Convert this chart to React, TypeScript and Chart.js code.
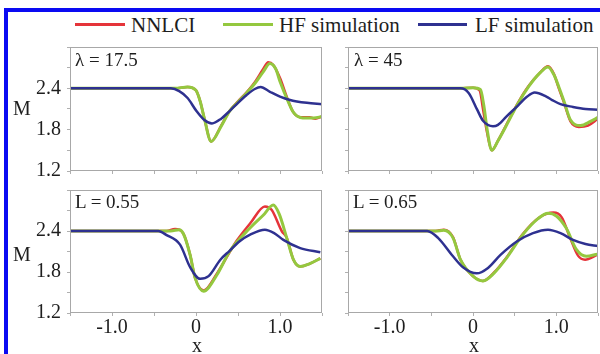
import React, { useEffect, useRef } from 'react';
import { Chart, registerables } from 'chart.js';

Chart.register(...registerables);

// ---- tick definitions ----
const xTickValues = [-1.5, -1.0, -0.5, 0, 0.5, 1.0, 1.5];
const xTickLabels = ['', '-1.0', '', '0', '', '1.0', ''];
const yTickValues = [1.2, 1.5, 1.8, 2.1, 2.4, 2.7, 3.0];
const yTickLabels = ['1.2', '', '1.8', '', '2.4', '', ''];

const seriesNames = ['NNLCI', 'HF simulation', 'LF simulation'];
const panelTitles = ['λ = 17.5', 'λ = 45', 'L = 0.55', 'L = 0.65'];

// ---- panel 1: λ = 17.5 ----
const tlNnlciX = [-1.5, -0.25, -0.1, 0, 0.05, 0.1, 0.18, 0.3, 0.4, 0.5, 0.6, 0.7, 0.8, 0.86, 0.92, 1.0, 1.08, 1.15, 1.25, 1.35, 1.42, 1.5];
const tlNnlciY = [2.4, 2.4, 2.42, 2.37, 2.21, 1.96, 1.63, 1.86, 2.07, 2.21, 2.34, 2.49, 2.68, 2.78, 2.74, 2.55, 2.28, 2.07, 1.98, 1.98, 1.96, 1.99];
const tlHfX = [-1.5, -0.25, -0.1, 0, 0.05, 0.1, 0.18, 0.3, 0.4, 0.5, 0.6, 0.7, 0.8, 0.88, 0.95, 1.0, 1.1, 1.16, 1.27, 1.4, 1.5];
const tlHfY = [2.4, 2.4, 2.42, 2.37, 2.21, 1.96, 1.63, 1.85, 2.07, 2.2, 2.33, 2.47, 2.64, 2.76, 2.68, 2.5, 2.2, 2.05, 1.97, 1.97, 1.99];
const tlLfX = [-1.5, -0.3, -0.2, -0.1, 0, 0.1, 0.19, 0.3, 0.4, 0.5, 0.6, 0.7, 0.77, 0.88, 1.0, 1.12, 1.2, 1.32, 1.5];
const tlLfY = [2.4, 2.4, 2.36, 2.26, 2.08, 1.94, 1.89, 1.96, 2.07, 2.19, 2.3, 2.39, 2.42, 2.35, 2.28, 2.23, 2.21, 2.19, 2.17];

// ---- panel 2: λ = 45 ----
const trNnlciX = [-1.5, -0.15, 0, 0.08, 0.12, 0.17, 0.225, 0.3, 0.4, 0.54, 0.665, 0.8, 0.9, 0.97, 1.03, 1.09, 1.17, 1.27, 1.38, 1.5];
const trNnlciY = [2.4, 2.4, 2.41, 2.37, 2.1, 1.75, 1.5, 1.64, 1.87, 2.19, 2.43, 2.62, 2.72, 2.61, 2.4, 2.2, 1.92, 1.84, 1.86, 1.96];
const trHfX = [-1.5, -0.15, 0, 0.09, 0.13, 0.17, 0.225, 0.3, 0.4, 0.54, 0.665, 0.8, 0.9, 0.97, 1.03, 1.09, 1.17, 1.29, 1.41, 1.5];
const trHfY = [2.4, 2.4, 2.41, 2.38, 2.15, 1.8, 1.5, 1.64, 1.86, 2.18, 2.42, 2.62, 2.71, 2.6, 2.42, 2.22, 1.94, 1.86, 1.92, 1.98];
const trLfX = [-1.5, -0.15, -0.05, 0.05, 0.12, 0.24, 0.3, 0.4, 0.54, 0.65, 0.74, 0.88, 0.95, 1.05, 1.2, 1.35, 1.5];
const trLfY = [2.4, 2.4, 2.33, 2.09, 1.93, 1.85, 1.87, 1.99, 2.15, 2.28, 2.34, 2.28, 2.23, 2.17, 2.13, 2.1, 2.09];

// ---- panel 3: L = 0.55 ----
const blNnlciX = [-1.5, -0.35, -0.25, -0.15, -0.07, -0.01, 0.09, 0.25, 0.48, 0.65, 0.82, 0.9, 1.02, 1.08, 1.16, 1.24, 1.35, 1.48];
const blNnlciY = [2.4, 2.4, 2.43, 2.36, 2.05, 1.71, 1.53, 1.78, 2.25, 2.52, 2.76, 2.71, 2.4, 2.3, 1.98, 1.88, 1.92, 2.0];
const blHfX = [-1.5, -0.3, -0.2, -0.15, -0.07, -0.01, 0.09, 0.25, 0.4, 0.64, 0.8, 0.92, 0.99, 1.08, 1.16, 1.24, 1.35, 1.48];
const blHfY = [2.4, 2.4, 2.42, 2.36, 2.05, 1.71, 1.52, 1.76, 2.1, 2.44, 2.63, 2.78, 2.65, 2.3, 1.98, 1.88, 1.92, 2.0];
const blLfX = [-1.5, -0.45, -0.35, -0.19, -0.07, 0.05, 0.15, 0.29, 0.4, 0.52, 0.65, 0.82, 0.93, 1.04, 1.24, 1.48];
const blLfY = [2.4, 2.4, 2.34, 2.2, 1.87, 1.7, 1.74, 1.98, 2.11, 2.25, 2.35, 2.42, 2.37, 2.27, 2.15, 2.09];

// ---- panel 4: L = 0.65 ----
const brNnlciX = [-1.5, -0.45, -0.35, -0.24, -0.15, 0.0, 0.12, 0.25, 0.4, 0.6, 0.8, 0.965, 1.065, 1.165, 1.26, 1.345, 1.49];
const brNnlciY = [2.4, 2.4, 2.42, 2.31, 1.98, 1.74, 1.67, 1.79, 2.01, 2.36, 2.6, 2.67, 2.6, 2.3, 2.04, 1.98, 2.05];
const brHfX = [-1.5, -0.45, -0.35, -0.24, -0.15, 0.0, 0.12, 0.25, 0.4, 0.6, 0.78, 0.9, 1.0, 1.12, 1.24, 1.36, 1.49];
const brHfY = [2.4, 2.4, 2.41, 2.3, 1.98, 1.74, 1.67, 1.78, 2.0, 2.35, 2.58, 2.66, 2.62, 2.44, 2.13, 2.03, 2.06];
const brLfX = [-1.5, -0.55, -0.42, -0.24, -0.12, 0.045, 0.18, 0.33, 0.53, 0.72, 0.9, 1.05, 1.2, 1.35, 1.5];
const brLfY = [2.4, 2.4, 2.3, 2.03, 1.87, 1.78, 1.86, 2.05, 2.25, 2.37, 2.42, 2.37, 2.27, 2.21, 2.18];

const RED = '#e5343a';
const GREEN = '#94c83f';
const BLUE = '#2e3190';
const FONT = '"Liberation Serif", "Times New Roman", serif';
const TEXT = '#1e1e1e';

const framePlugin = {
  id: 'frame',
  afterDraw(chart: any) {
    const { ctx, chartArea: a } = chart;
    ctx.save();
    ctx.strokeStyle = '#a8a8a8';
    ctx.lineWidth = 1;
    ctx.strokeRect(Math.round(a.left) + 0.5, Math.round(a.top) + 0.5, Math.round(a.right - a.left) - 1, Math.round(a.bottom - a.top) - 1);
    ctx.restore();
  },
};

const findIdx = (vals: number[], v: number) => vals.findIndex((t) => Math.abs(t - v) < 1e-6);

function Panel(p: any) {
  const ref = useRef<HTMLCanvasElement>(null);
  useEffect(() => {
    const mk = (xs: number[], ys: number[]) => xs.map((x, i) => ({ x, y: ys[i] }));
    const grid = { display: true, drawOnChartArea: false, drawTicks: true, tickLength: 3, color: '#b0b0b0', lineWidth: 1 };
    const chart = new Chart(ref.current as HTMLCanvasElement, {
      type: 'line',
      data: {
        datasets: [
          { label: seriesNames[2], data: mk(p.lfX, p.lfY), borderColor: BLUE, borderWidth: 2.5 },
          { label: seriesNames[1], data: mk(p.hfX, p.hfY), borderColor: GREEN, borderWidth: 3 },
          { label: seriesNames[0], data: mk(p.nnX, p.nnY), borderColor: RED, borderWidth: 2.5 },
        ],
      },
      options: {
        animation: false,
        responsive: false,
        events: [],
        layout: { padding: { top: p.padTop, right: p.padRight, left: 0, bottom: 0 } },
        elements: { point: { radius: 0 }, line: { cubicInterpolationMode: 'monotone', fill: false } },
        plugins: { legend: { display: false }, tooltip: { enabled: false } },
        scales: {
          x: {
            type: 'linear',
            min: -1.5,
            max: 1.5,
            afterBuildTicks: (s: any) => { s.ticks = xTickValues.map((v) => ({ value: v })); },
            afterFit: (s: any) => { s.height = p.xAxisHeight; },
            ticks: {
              autoSkip: false,
              maxRotation: 0,
              padding: 0,
              font: { family: FONT, size: 20 },
              color: TEXT,
              callback: (v: any) => { const i = findIdx(xTickValues, Number(v)); return p.showX && i >= 0 ? xTickLabels[i] : ''; },
            },
            grid,
            border: { display: false },
          },
          y: {
            type: 'linear',
            min: 1.2,
            max: 3.0,
            afterBuildTicks: (s: any) => { s.ticks = yTickValues.map((v) => ({ value: v })); },
            afterFit: (s: any) => { s.width = p.yAxisWidth; },
            ticks: {
              autoSkip: false,
              padding: 6,
              font: { family: FONT, size: 20, lineHeight: 0.1 },
              color: TEXT,
              callback: (v: any) => { const i = findIdx(yTickValues, Number(v)); return p.showY && i >= 0 ? yTickLabels[i] : ''; },
            },
            grid,
            border: { display: false },
          },
        },
      },
      plugins: [framePlugin],
    } as any);
    return () => chart.destroy();
  }, []);
  return (
    <canvas
      ref={ref}
      width={p.width}
      height={p.height}
      style={{ position: 'absolute', left: p.left, top: p.top, width: p.width, height: p.height }}
    />
  );
}

const abs = (o: any) => ({ position: 'absolute' as const, whiteSpace: 'nowrap' as const, ...o });

export default function App() {
  const textStyle = { fontFamily: FONT, color: TEXT };
  return (
    <div style={{ position: 'absolute', left: 0, top: 0, width: 600, height: 354, background: '#fff', overflow: 'hidden', ...textStyle }}>
      {/* blue frame */}
      <div style={abs({ left: 4, top: 8, width: 596, height: 346, borderTop: '4px solid #0a0af2', borderLeft: '4px solid #0a0af2', boxSizing: 'border-box' })} />

      {/* legend */}
      <div style={abs({ left: 75, top: 23, width: 50, height: 3, background: RED })} />
      <div style={abs({ left: 131, top: 13, fontSize: 21, lineHeight: '24px' })}>{seriesNames[0]}</div>
      <div style={abs({ left: 223, top: 23, width: 50, height: 3, background: GREEN })} />
      <div style={abs({ left: 279, top: 13, fontSize: 21, lineHeight: '24px' })}>{seriesNames[1]}</div>
      <div style={abs({ left: 418, top: 23, width: 49, height: 3, background: BLUE })} />
      <div style={abs({ left: 475, top: 13, fontSize: 21, lineHeight: '24px' })}>{seriesNames[2]}</div>

      <Panel left={0} top={40} width={330} height={140} yAxisWidth={70} xAxisHeight={9} padTop={7} padRight={8} showX={false} showY={true}
        nnX={tlNnlciX} nnY={tlNnlciY} hfX={tlHfX} hfY={tlHfY} lfX={tlLfX} lfY={tlLfY} />
      <Panel left={330} top={40} width={270} height={140} yAxisWidth={18} xAxisHeight={9} padTop={7} padRight={2} showX={false} showY={false}
        nnX={trNnlciX} nnY={trNnlciY} hfX={trHfX} hfY={trHfY} lfX={trLfX} lfY={trLfY} />
      <Panel left={0} top={183} width={330} height={171} yAxisWidth={70} xAxisHeight={41} padTop={7} padRight={8} showX={true} showY={true}
        nnX={blNnlciX} nnY={blNnlciY} hfX={blHfX} hfY={blHfY} lfX={blLfX} lfY={blLfY} />
      <Panel left={330} top={183} width={270} height={171} yAxisWidth={18} xAxisHeight={41} padTop={7} padRight={2} showX={true} showY={false}
        nnX={brNnlciX} nnY={brNnlciY} hfX={brHfX} hfY={brHfY} lfX={brLfX} lfY={brLfY} />

      {/* panel titles */}
      <div style={abs({ left: 75, top: 49, fontSize: 19, lineHeight: '22px' })}>{panelTitles[0]}</div>
      <div style={abs({ left: 354, top: 49, fontSize: 19, lineHeight: '22px' })}>{panelTitles[1]}</div>
      <div style={abs({ left: 75, top: 191, fontSize: 19, lineHeight: '22px' })}>{panelTitles[2]}</div>
      <div style={abs({ left: 353, top: 191, fontSize: 19, lineHeight: '22px' })}>{panelTitles[3]}</div>

      {/* axis titles */}
      <div style={abs({ left: 13, top: 96, fontSize: 20, lineHeight: '24px' })}>M</div>
      <div style={abs({ left: 13, top: 242, fontSize: 20, lineHeight: '24px' })}>M</div>
      <div style={abs({ left: 192, top: 333, fontSize: 20, lineHeight: '24px' })}>x</div>
      <div style={abs({ left: 469, top: 333, fontSize: 20, lineHeight: '24px' })}>x</div>
    </div>
  );
}
